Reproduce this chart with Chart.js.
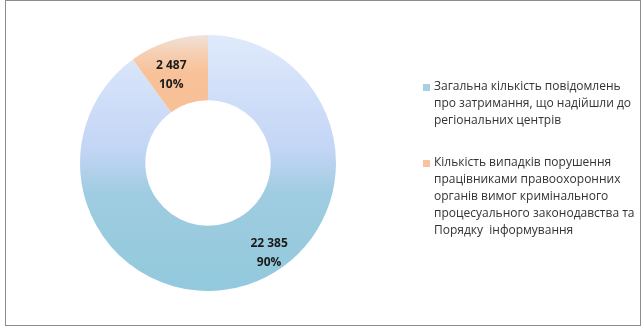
<!DOCTYPE html>
<html>
<head>
<meta charset="utf-8">
<script src="https://cdn.jsdelivr.net/npm/chart.js@4.4.0/dist/chart.umd.min.js"></script>
<style>
  html, body { margin: 0; padding: 0; background: #fff; }
  #wrap { width: 644px; height: 329px; position: relative; }
</style>
</head>
<body>
<div id="wrap"><canvas id="donut" width="644" height="329"></canvas></div>
<script>
// chart data
const categories = [
    ['Загальна кількість повідомлень', 'про затримання, що надійшли до', 'регіональних центрів'],
    ['Кількість випадків порушення', 'працівниками правоохоронних', 'органів вимог кримінального', 'процесуального законодавства та', 'Порядку  інформування']
];
const values = [22385, 2487];
const valueLabels = ['22 385', '2 487'];
const percentLabels = ['90%', '10%'];

const FONT = "'Open Sans', 'Noto Sans', sans-serif";

// vertical gradients like the original office fill
const sliceFill = (ctx) => {
    const chart = ctx.chart;
    const area = chart.chartArea;
    if (!area) return '#a0cde0';
    const g = chart.ctx.createLinearGradient(0, area.top, 0, area.bottom);
    if (ctx.dataIndex === 0) {
        g.addColorStop(0, '#dfeafb');
        g.addColorStop(0.45, '#c3d5f6');
        g.addColorStop(0.62, '#9fcce0');
        g.addColorStop(1, '#92c9dc');
    } else {
        g.addColorStop(0, '#efe2da');
        g.addColorStop(0.07, '#f6cfb3');
        g.addColorStop(0.15, '#f8c198');
        g.addColorStop(1, '#f8bb8e');
    }
    return g;
};
const legendSwatch = ['#a9cfe6', '#f7c49e'];

// value + percent labels inside the ring
const labelPlugin = {
    id: 'sliceLabels',
    afterDatasetsDraw(chart) {
        const ctx = chart.ctx;
        const meta = chart.getDatasetMeta(0);
        // where along each slice the label sits (fraction of the slice angle, radius factor)
        const spots = [[0.45, 1.14], [0.37, 1.0]];
        meta.data.forEach((arc, i) => {
            const p = arc.getProps(['x', 'y', 'startAngle', 'endAngle', 'innerRadius', 'outerRadius'], true);
            const a = p.startAngle + (p.endAngle - p.startAngle) * spots[i][0];
            const r = (p.innerRadius + p.outerRadius) / 2 * spots[i][1];
            const x = p.x + Math.cos(a) * r;
            const y = p.y + Math.sin(a) * r;
            ctx.save();
            ctx.fillStyle = '#1a1a1a';
            ctx.font = 'bold 12px ' + FONT;
            ctx.textAlign = 'center';
            ctx.textBaseline = 'middle';
            ctx.fillText(valueLabels[i], x, y - 9.5);
            ctx.fillText(percentLabels[i], x, y + 9.5);
            ctx.restore();
        });
    }
};

// multi-line legend on the right plus the outer frame
const sideLegend = {
    id: 'sideLegend',
    afterDraw(chart) {
        const ctx = chart.ctx;
        const tops = [87, 163];
        ctx.save();
        ctx.font = '12px ' + FONT;
        ctx.textBaseline = 'middle';
        categories.forEach((lines, i) => {
            ctx.fillStyle = legendSwatch[i];
            ctx.fillRect(423, tops[i] - 3, 7, 7);
            ctx.fillStyle = '#333';
            lines.forEach((ln, j) => {
                ctx.fillText(ln, 434, tops[i] + j * 17);
            });
        });
        ctx.strokeStyle = '#8c8c8c';
        ctx.lineWidth = 1;
        ctx.strokeRect(5.5, 0.5, 635, 325);
        ctx.restore();
    }
};

new Chart('donut', {
    type: 'doughnut',
    data: {
        labels: categories.map(c => c.join(' ')),
        datasets: [{
            data: values,
            backgroundColor: sliceFill,
            borderWidth: 0
        }]
    },
    options: {
        responsive: false,
        animation: false,
        cutout: '49%',
        layout: { padding: { left: 80, right: 308, top: 35, bottom: 38 } },
        plugins: {
            legend: { display: false },
            tooltip: { enabled: false }
        }
    },
    plugins: [labelPlugin, sideLegend]
});
</script>
</body>
</html>
